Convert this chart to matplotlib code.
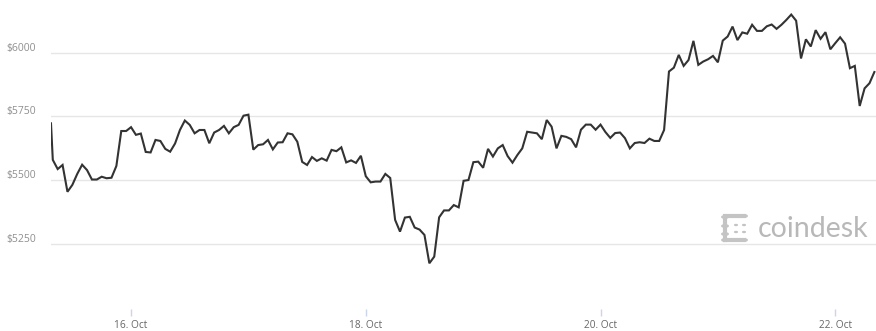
import matplotlib
matplotlib.use("Agg")
import matplotlib.pyplot as plt
import matplotlib.dates as mdates
import matplotlib.transforms as mtransforms
from matplotlib.patches import Circle
import pandas as pd

# ---- data (BTC price, hourly) ----
start_time = "2017-10-15 07:38"
start_price = 5723
hourly_start = "2017-10-15 08:00"
prices = [
    5580, 5544, 5560, 5455, 5482, 5525, 5561, 5540, 5503, 5503,
    5514, 5508, 5510, 5556, 5693, 5693, 5708, 5678, 5683, 5611,
    5609, 5658, 5654, 5623, 5612, 5644, 5697, 5734, 5717, 5684,
    5697, 5697, 5645, 5687, 5697, 5713, 5684, 5708, 5717, 5753,
    5757, 5620, 5638, 5641, 5658, 5621, 5648, 5649, 5684, 5680,
    5651, 5572, 5560, 5591, 5576, 5586, 5577, 5619, 5614, 5629,
    5570, 5578, 5568, 5596, 5516, 5492, 5495, 5495, 5525, 5509,
    5345, 5299, 5354, 5357, 5315, 5307, 5286, 5175, 5201, 5355,
    5382, 5382, 5403, 5394, 5498, 5501, 5571, 5573, 5549, 5623,
    5593, 5625, 5638, 5595, 5569, 5599, 5625, 5690, 5687, 5684,
    5661, 5736, 5710, 5625, 5674, 5670, 5661, 5629, 5698, 5718,
    5718, 5698, 5718, 5689, 5666, 5685, 5687, 5665, 5625, 5646,
    5649, 5646, 5663, 5654, 5654, 5697, 5926, 5941, 5991, 5948,
    5971, 6046, 5952, 5965, 5974, 5987, 5962, 6047, 6063, 6102,
    6049, 6079, 6074, 6109, 6085, 6085, 6103, 6110, 6093, 6109,
    6128, 6149, 6125, 5977, 6052, 6024, 6088, 6054, 6080, 6013,
    6037, 6060, 6035, 5939, 5948, 5791, 5860, 5880, 5924,
]
y_ticks = [5250, 5500, 5750, 6000]
y_labels = ["$5250", "$5500", "$5750", "$6000"]
x_ticks = ["2017-10-16", "2017-10-18", "2017-10-20", "2017-10-22"]
x_labels = ["16. Oct", "18. Oct", "20. Oct", "22. Oct"]
brand = "coindesk"

times = [pd.Timestamp(start_time)] + list(
    pd.date_range(hourly_start, periods=len(prices), freq="h"))
values = [start_price] + prices

plt.rcParams["font.family"] = ["Open Sans", "DejaVu Sans"]

fig = plt.figure(figsize=(8.76, 3.31), dpi=100)
ax = fig.add_axes([51 / 876, 22 / 331, 825 / 876, 309 / 331])

ax.plot(times, values, color="#333333", linewidth=1.5, solid_joinstyle="miter",
        zorder=3)

ax.set_xlim(pd.Timestamp(start_time), pd.Timestamp("2017-10-22 08:20"))
ax.set_ylim(4996, 6206)

# grid
for v in y_ticks:
    ax.axhline(v, color="#e6e6e6", linewidth=1.0, zorder=1)
ax.set_yticks([])

# y labels slightly above grid lines
off = mtransforms.offset_copy(ax.get_yaxis_transform(), fig=fig, x=-15, y=2,
                              units="dots")
for v, lab in zip(y_ticks, y_labels):
    ax.text(0, v, lab, transform=off, ha="right", va="baseline",
            fontsize=7.5, color="#8f8f8f")

ax.set_xticks([pd.Timestamp(t) for t in x_ticks])
ax.set_xticklabels(x_labels, fontsize=7.3, color="#666666")
ax.tick_params(axis="x", length=5, width=1, color="#ccd6eb", pad=3)

for s in ax.spines.values():
    s.set_visible(False)

# brand watermark
fig.text(758 / 876, 1 - 229 / 331, brand, ha="left", va="center",
         fontsize=20.5, color="#b8b8b8", family=["Lato", "DejaVu Sans"])
dot_c = "#c4c4c4"
dots = [(725, 217), (734, 216), (744, 216), (725, 226), (725, 234),
        (725, 240), (734, 240), (744, 240)]
for (px, py) in dots:
    fig.patches.append(Circle((px / 876, 1 - py / 331), 3.2 / 876,
                              transform=fig.transFigure, color=dot_c))
for (px, py) in [(736, 225), (736, 232), (744, 225), (744, 232)]:
    fig.patches.append(Circle((px / 876, 1 - py / 331), 1.3 / 876,
                              transform=fig.transFigure, color=dot_c))
fig.add_artist(plt.Line2D([725 / 876, 744 / 876], [1 - 216 / 331] * 2,
                          color=dot_c, linewidth=3))
fig.add_artist(plt.Line2D([725 / 876, 744 / 876], [1 - 240 / 331] * 2,
                          color=dot_c, linewidth=3))
fig.add_artist(plt.Line2D([725 / 876] * 2, [1 - 217 / 331, 1 - 240 / 331],
                          color=dot_c, linewidth=3))

fig.savefig("out.png", dpi=100)
